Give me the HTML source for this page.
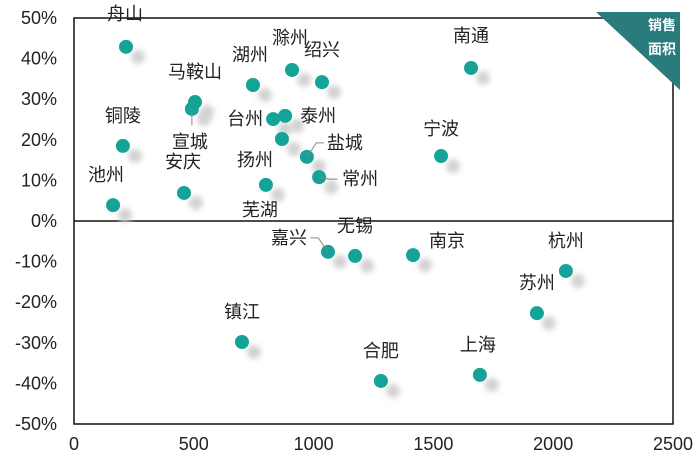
<!DOCTYPE html>
<html><head><meta charset="utf-8"><style>
body{margin:0;background:#fff}
text{font-family:"Liberation Sans","Noto Sans CJK SC",sans-serif}
</style></head><body>
<svg id="c" width="700" height="468">
<defs><filter id="bl" x="-1" y="-1" width="3" height="3"><feGaussianBlur stdDeviation="2.6"/></filter></defs>
<rect x="74" y="18" width="599" height="406" fill="none" stroke="#111" stroke-width="1.5"/>
<polygon points="596,12 680,12 680,90" fill="#2a7c7c"/>
<text x="662" y="30" fill="#fff" font-size="14" font-weight="bold" text-anchor="middle">销售</text>
<text x="662" y="54" fill="#fff" font-size="14" font-weight="bold" text-anchor="middle">面积</text>
</svg>
<script>
const cities=["舟山","铜陵","池州","马鞍山","宣城","安庆","湖州","滁州","绍兴","台州","泰州","扬州","芜湖","盐城","常州","南通","宁波","嘉兴","无锡","南京","杭州","苏州","镇江","合肥","上海"];
const areaX=[217,204,163,505,492,459,747,910,1035,831,881,868,801,972,1023,1657,1532,1060,1173,1415,2053,1932,701,1281,1694];
const changeY=[42.9,18.5,3.9,29.3,27.6,6.9,33.5,37.2,34.2,25.1,25.9,20.2,8.9,15.8,10.8,37.7,16.0,-7.6,-8.6,-8.4,-12.3,-22.7,-29.8,-39.4,-37.9];
const xTicks=[0,500,1000,1500,2000,2500];
const yTicks=[50,40,30,20,10,0,-10,-20,-30,-40,-50];
const labelDx=[-1,0,-7,0,-2,-1,-3,-2,0,-28,33,-27,-6,38,41,0,0,-39,0,34,0,0,0,0,-2];
const labelDy=[-33,-30,-30,-30,33,-31,-30,-32,-32,0,0,21,25,-14,2,-32,-27,-14,-30,-14,-30,-30,-30,-30,-30];
const leader=[0,0,0,0,1,0,0,0,0,0,0,0,0,1,1,0,0,1,0,0,0,0,0,0,0];
const X=v=>74+v/2500*599, Y=v=>221-v*4.06;
const s=document.getElementById('c'),NS='http://www.w3.org/2000/svg';
function mk(t,a,p){const e=document.createElementNS(NS,t);for(const k in a)e.setAttribute(k,a[k]);(p||s).appendChild(e);return e;}
yTicks.forEach(v=>{const t=mk('text',{x:57,y:Y(v)+6,'font-size':18,fill:'#222','text-anchor':'end'});t.textContent=v+'%';

});
xTicks.forEach(v=>{const t=mk('text',{x:X(v),y:450,'font-size':18,fill:'#222','text-anchor':'middle'});t.textContent=v;

});
const z=mk('line',{x1:74,x2:673,y1:Y(0),y2:Y(0),stroke:'#111','stroke-width':1.5});


cities.forEach((c,i)=>{const cx=X(areaX[i]),cy=Y(changeY[i]);
const sh=mk('circle',{cx:cx+12,cy:cy+10,r:7,fill:'#d2d2d2',filter:'url(#bl)'});

});
cities.forEach((c,i)=>{const cx=X(areaX[i]),cy=Y(changeY[i]);
const d=mk('circle',{cx:cx,cy:cy,r:7,fill:'#14a396'});


const lx=cx+labelDx[i],ly=cy+labelDy[i];
if(leader[i]){const l=mk('polyline',{points:`${cx},${cy} ${cx+labelDx[i]*0.25},${ly} ${cx+labelDx[i]*0.45},${ly}`,fill:'none',stroke:'#888','stroke-width':1});
if(Math.abs(labelDy[i])>20)l.setAttribute('points',`${cx},${cy} ${cx},${cy+labelDy[i]*0.5}`);

}
const t=mk('text',{x:lx,y:ly+6,'font-size':18,fill:'#222','text-anchor':'middle'});t.textContent=c;

});
</script>
</body></html>
